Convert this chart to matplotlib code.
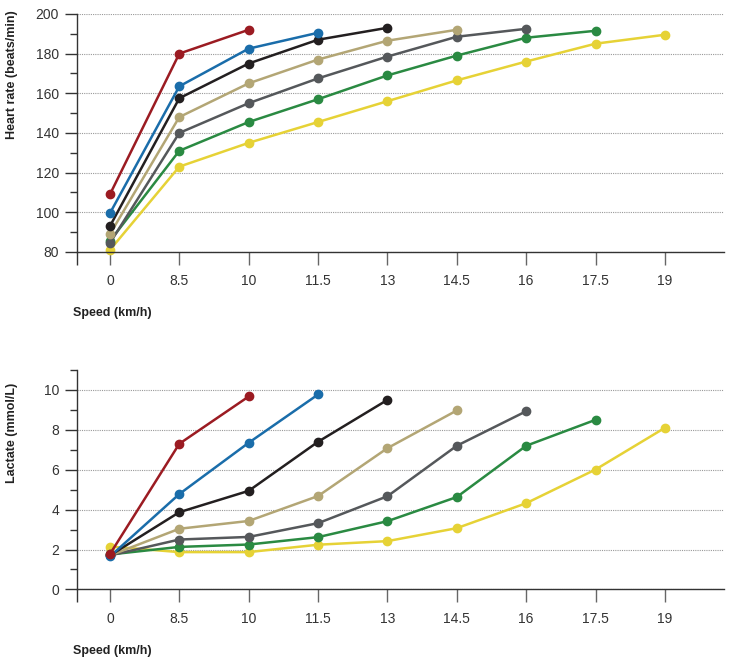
import matplotlib
matplotlib.use("Agg")
import matplotlib.pyplot as plt
from matplotlib.ticker import MultipleLocator, FixedLocator

plt.rcParams["font.family"] = ["Liberation Sans Narrow", "Liberation Sans", "DejaVu Sans"]

speed_labels = ["0", "8.5", "10", "11.5", "13", "14.5", "16", "17.5", "19"]

# one series per runner, drawn bottom layer first
colors = ["#E6D236", "#2A8A42", "#55585B", "#B3A675", "#231F20", "#1A6DAA", "#9B1B22"]

heart_rate = [
    [81, 123, 135, 145.5, 156, 166.5, 176, 185, 189.5],
    [85.5, 131, 145.5, 157, 169, 179, 188, 191.5],
    [84.5, 140, 155, 167.5, 178.5, 188.5, 192.5],
    [89, 148, 165, 177, 186.5, 192],
    [93, 157.5, 175, 187, 193],
    [99.5, 163.5, 182.5, 190.5],
    [109, 180, 192],
]

lactate = [
    [2.15, 1.87, 1.87, 2.24, 2.42, 3.07, 4.32, 6.01, 8.1],
    [1.75, 2.13, 2.25, 2.62, 3.42, 4.63, 7.2, 8.5],
    [1.7, 2.5, 2.63, 3.32, 4.67, 7.2, 8.93],
    [1.7, 3.04, 3.43, 4.68, 7.08, 8.97],
    [1.7, 3.87, 4.94, 7.4, 9.5],
    [1.65, 4.78, 7.35, 9.77],
    [1.77, 7.3, 9.67],
]


def style_axis(ax, ylim, major, minor):
    for s in ["top", "right"]:
        ax.spines[s].set_visible(False)
    for s in ["left", "bottom"]:
        ax.spines[s].set_color("#333333")
        ax.spines[s].set_linewidth(1.0)
    ax.set_xlim(-0.475, 8.85)
    ax.set_ylim(*ylim)
    ax.xaxis.set_major_locator(FixedLocator(range(len(speed_labels))))
    ax.set_xticklabels(speed_labels)
    ax.xaxis.set_minor_locator(FixedLocator([-0.475]))
    ax.yaxis.set_major_locator(MultipleLocator(major))
    ax.yaxis.set_minor_locator(MultipleLocator(minor))
    ax.tick_params(axis="x", which="major", length=9, width=1, color="#666666",
                   labelsize=10, labelcolor="#333333", pad=7)
    ax.tick_params(axis="x", which="minor", length=9, width=1, color="#333333")
    ax.tick_params(axis="y", which="major", length=9, width=1, color="#333333",
                   labelsize=10, labelcolor="#333333", pad=4)
    ax.tick_params(axis="y", which="minor", length=5, width=1, color="#333333")
    ax.grid(axis="y", which="major", linestyle=(0, (1, 1)), color="#999999", linewidth=0.8)
    ax.set_axisbelow(True)


fig = plt.figure(figsize=(7.29, 6.63), dpi=100)
ax1 = fig.add_axes([0.1056, 0.620, 0.8874, 0.359])
ax2 = fig.add_axes([0.1056, 0.111, 0.8874, 0.331])

for c, hr in zip(colors, heart_rate):
    ax1.plot(range(len(hr)), hr, color=c, lw=1.8, marker="o", ms=6, clip_on=False)
for c, la in zip(colors, lactate):
    ax2.plot(range(len(la)), la, color=c, lw=1.8, marker="o", ms=6, clip_on=False)

style_axis(ax1, (80, 200), 20, 10)
style_axis(ax2, (0, 11), 2, 1)
ax2.set_yticks(range(0, 11, 2))

lab = dict(fontsize=9, fontweight="bold", color="#222222")
fig.text(12 / 729, 1 - 10 / 663, "Heart rate (beats/min)", rotation=90,
         ha="center", va="top", **lab)
fig.text(12 / 729, 1 - 383 / 663, "Lactate (mmol/L)", rotation=90,
         ha="center", va="top", **lab)
fig.text(73 / 729, 1 - 313 / 663, "Speed (km/h)", ha="left", va="center", **lab)
fig.text(73 / 729, 1 - 651 / 663, "Speed (km/h)", ha="left", va="center", **lab)

fig.savefig("out.png", dpi=100)
